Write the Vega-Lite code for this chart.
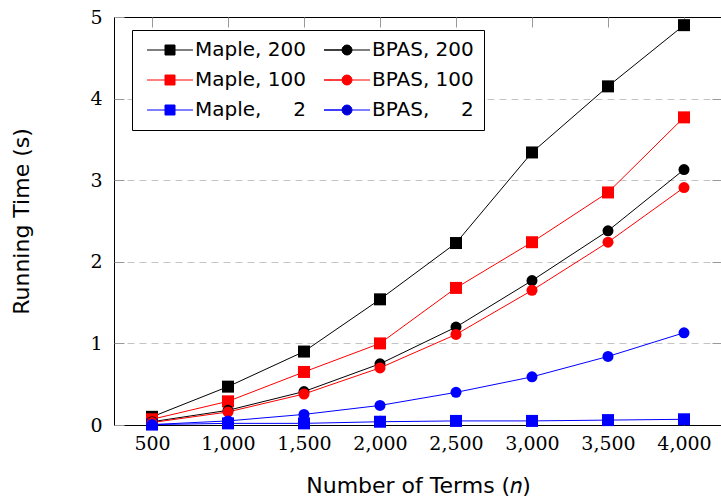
{
  "$schema": "https://vega.github.io/schema/vega-lite/v6.json",
  "width": 608,
  "height": 408,
  "autosize": {"type": "none"},
  "padding": {"left": 114, "top": 17, "right": 0, "bottom": 74},
  "background": "white",
  "config": {
    "view": {"stroke": "black", "strokeWidth": 1},
    "axis": {
      "labelFont": "DejaVu Serif",
      "labelFontSize": 19,
      "labelColor": "black",
      "titleFont": "DejaVu Sans",
      "titleFontSize": 22,
      "titleFontWeight": "normal",
      "titleColor": "black",
      "tickColor": "#999999",
      "tickSize": -10,
      "domain": false,
      "grid": false
    },
    "legend": {"symbolFillColor": "white", "symbolStrokeColor": "black"}
  },
  "data": {
    "values": [
      {"n": 500, "time": 0.10, "series": "Maple, 200", "tool": "Maple"},
      {"n": 1000, "time": 0.47, "series": "Maple, 200", "tool": "Maple"},
      {"n": 1500, "time": 0.90, "series": "Maple, 200", "tool": "Maple"},
      {"n": 2000, "time": 1.54, "series": "Maple, 200", "tool": "Maple"},
      {"n": 2500, "time": 2.23, "series": "Maple, 200", "tool": "Maple"},
      {"n": 3000, "time": 3.34, "series": "Maple, 200", "tool": "Maple"},
      {"n": 3500, "time": 4.15, "series": "Maple, 200", "tool": "Maple"},
      {"n": 4000, "time": 4.90, "series": "Maple, 200", "tool": "Maple"},
      {"n": 500, "time": 0.07, "series": "Maple, 100", "tool": "Maple"},
      {"n": 1000, "time": 0.29, "series": "Maple, 100", "tool": "Maple"},
      {"n": 1500, "time": 0.65, "series": "Maple, 100", "tool": "Maple"},
      {"n": 2000, "time": 1.00, "series": "Maple, 100", "tool": "Maple"},
      {"n": 2500, "time": 1.68, "series": "Maple, 100", "tool": "Maple"},
      {"n": 3000, "time": 2.24, "series": "Maple, 100", "tool": "Maple"},
      {"n": 3500, "time": 2.85, "series": "Maple, 100", "tool": "Maple"},
      {"n": 4000, "time": 3.77, "series": "Maple, 100", "tool": "Maple"},
      {"n": 500, "time": 0.005, "series": "Maple, 2", "tool": "Maple"},
      {"n": 1000, "time": 0.02, "series": "Maple, 2", "tool": "Maple"},
      {"n": 1500, "time": 0.02, "series": "Maple, 2", "tool": "Maple"},
      {"n": 2000, "time": 0.04, "series": "Maple, 2", "tool": "Maple"},
      {"n": 2500, "time": 0.05, "series": "Maple, 2", "tool": "Maple"},
      {"n": 3000, "time": 0.05, "series": "Maple, 2", "tool": "Maple"},
      {"n": 3500, "time": 0.06, "series": "Maple, 2", "tool": "Maple"},
      {"n": 4000, "time": 0.07, "series": "Maple, 2", "tool": "Maple"},
      {"n": 500, "time": 0.04, "series": "BPAS, 200", "tool": "BPAS"},
      {"n": 1000, "time": 0.18, "series": "BPAS, 200", "tool": "BPAS"},
      {"n": 1500, "time": 0.41, "series": "BPAS, 200", "tool": "BPAS"},
      {"n": 2000, "time": 0.75, "series": "BPAS, 200", "tool": "BPAS"},
      {"n": 2500, "time": 1.20, "series": "BPAS, 200", "tool": "BPAS"},
      {"n": 3000, "time": 1.77, "series": "BPAS, 200", "tool": "BPAS"},
      {"n": 3500, "time": 2.38, "series": "BPAS, 200", "tool": "BPAS"},
      {"n": 4000, "time": 3.13, "series": "BPAS, 200", "tool": "BPAS"},
      {"n": 500, "time": 0.03, "series": "BPAS, 100", "tool": "BPAS"},
      {"n": 1000, "time": 0.16, "series": "BPAS, 100", "tool": "BPAS"},
      {"n": 1500, "time": 0.38, "series": "BPAS, 100", "tool": "BPAS"},
      {"n": 2000, "time": 0.70, "series": "BPAS, 100", "tool": "BPAS"},
      {"n": 2500, "time": 1.11, "series": "BPAS, 100", "tool": "BPAS"},
      {"n": 3000, "time": 1.65, "series": "BPAS, 100", "tool": "BPAS"},
      {"n": 3500, "time": 2.24, "series": "BPAS, 100", "tool": "BPAS"},
      {"n": 4000, "time": 2.91, "series": "BPAS, 100", "tool": "BPAS"},
      {"n": 500, "time": 0.005, "series": "BPAS, 2", "tool": "BPAS"},
      {"n": 1000, "time": 0.05, "series": "BPAS, 2", "tool": "BPAS"},
      {"n": 1500, "time": 0.13, "series": "BPAS, 2", "tool": "BPAS"},
      {"n": 2000, "time": 0.24, "series": "BPAS, 2", "tool": "BPAS"},
      {"n": 2500, "time": 0.40, "series": "BPAS, 2", "tool": "BPAS"},
      {"n": 3000, "time": 0.59, "series": "BPAS, 2", "tool": "BPAS"},
      {"n": 3500, "time": 0.84, "series": "BPAS, 2", "tool": "BPAS"},
      {"n": 4000, "time": 1.13, "series": "BPAS, 2", "tool": "BPAS"}
    ]
  },
  "layer": [
    {
      "mark": {"type": "line", "strokeWidth": 1},
      "encoding": {
        "x": {
          "field": "n", "type": "quantitative",
          "scale": {"domain": [250, 4250], "nice": false, "zero": false},
          "axis": {"orient": "bottom", "values": [500, 1000, 1500, 2000, 2500, 3000, 3500, 4000], "format": ",d", "title": "Number of Terms (𝑛)", "labelPadding": 19, "titlePadding": 22}
        },
        "y": {
          "field": "time", "type": "quantitative",
          "scale": {"domain": [0, 5], "nice": false, "zero": true},
          "axis": {"orient": "left", "values": [0, 1, 2, 3, 4, 5], "format": "d", "title": "Running Time (s)", "labelPadding": 22, "titlePadding": 56}
        },
        "color": {
          "field": "series", "type": "nominal",
          "scale": {"domain": ["BPAS, 2", "BPAS, 100", "BPAS, 200", "Maple, 2", "Maple, 100", "Maple, 200"], "range": ["#0000ff", "#ff0000", "black", "#0000ff", "#ff0000", "black"]},
          "legend": null
        }
      }
    },
    {
      "transform": [{"filter": "datum.tool == 'Maple'"}],
      "mark": {"type": "point", "shape": "square", "size": 144, "filled": true, "opacity": 1, "strokeWidth": 0},
      "encoding": {
        "x": {
          "field": "n", "type": "quantitative",
          "axis": {"orient": "top", "values": [500, 1000, 1500, 2000, 2500, 3000, 3500, 4000], "labels": false, "title": null}
        },
        "y": {
          "field": "time", "type": "quantitative",
          "axis": {"orient": "right", "values": [1, 2, 3, 4], "labels": false, "title": null, "grid": true, "gridDash": [7, 5], "gridColor": "#c4c4c4", "gridWidth": 1}
        },
        "color": {"field": "series", "type": "nominal", "legend": null}
      }
    },
    {
      "transform": [{"filter": "datum.tool == 'BPAS'"}],
      "mark": {"type": "point", "shape": "circle", "size": 121, "filled": true, "opacity": 1, "strokeWidth": 0},
      "encoding": {
        "x": {"field": "n", "type": "quantitative", "axis": null},
        "y": {"field": "time", "type": "quantitative", "axis": null},
        "color": {"field": "series", "type": "nominal", "legend": null}
      }
    },
    {
      "mark": {"type": "point", "filled": true, "opacity": 0},
      "encoding": {
        "x": {"field": "n", "type": "quantitative", "axis": null},
        "y": {"field": "time", "type": "quantitative", "axis": null},
        "fill": {
          "field": "series", "type": "nominal",
          "scale": {"domain": ["Maple, 200", "Maple, 100", "Maple, 2", "BPAS, 200", "BPAS, 100", "BPAS, 2"], "range": ["black", "#ff0000", "#0000ff", "black", "#ff0000", "#0000cc"]},
          "legend": {
            "title": null,
            "orient": "none",
            "legendX": 18,
            "legendY": 13,
            "columns": 2,
            "labelFont": "DejaVu Sans",
            "labelFontSize": 20,
            "labelColor": "black",
            "symbolSize": 100,
            "symbolOpacity": 1,
            "symbolStrokeWidth": 1,
            "symbolFillColor": "white",
            "symbolStrokeColor": "black",
            "labelOffset": 33,
            "columnPadding": 13,
            "rowPadding": 10,
            "padding": 10,
            "strokeColor": "black",
            "fillColor": "white",
            "cornerRadius": 0,
            "labelExpr": "indexof(datum.label,'00') < 0 ? replace(datum.label, ' ', ' \u2007\u2007') : datum.label"
          }
        },
        "stroke": {
          "field": "series", "type": "nominal",
          "scale": {"domain": ["Maple, 200", "Maple, 100", "Maple, 2", "BPAS, 200", "BPAS, 100", "BPAS, 2"], "range": ["black", "#ff0000", "#0000ff", "black", "#ff0000", "#0000ff"]},
          "legend": {"title": null, "symbolFillColor": "white", "symbolStrokeColor": "black"}
        },
        "shape": {
          "field": "series", "type": "nominal",
          "scale": {"domain": ["Maple, 200", "Maple, 100", "Maple, 2", "BPAS, 200", "BPAS, 100", "BPAS, 2"], "range": ["M-1,0H8.2M2.6,-1H4.6V1H2.6Z", "M-1,0H8.2M2.6,-1H4.6V1H2.6Z", "M-1,0H8.2M2.6,-1H4.6V1H2.6Z", "M-1,0H2.6A1,1 0 1,1 4.6,0A1,1 0 1,1 2.6,0ZM4.6,0H8.2", "M-1,0H2.6A1,1 0 1,1 4.6,0A1,1 0 1,1 2.6,0ZM4.6,0H8.2", "M-1,0H2.6A1,1 0 1,1 4.6,0A1,1 0 1,1 2.6,0ZM4.6,0H8.2"]},
          "legend": {"title": null, "symbolFillColor": "white", "symbolStrokeColor": "black"}
        }
      }
    }
  ],
  "resolve": {"axis": {"x": "independent", "y": "independent"}}
}
